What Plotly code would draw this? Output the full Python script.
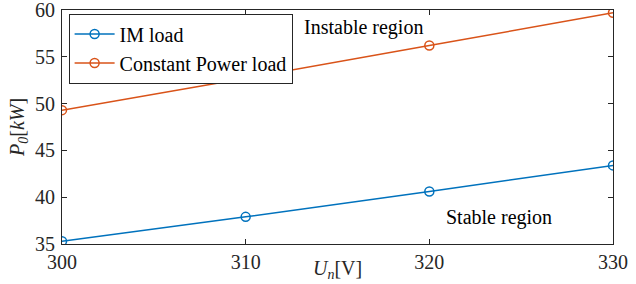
import plotly.graph_objects as go

voltage = [300, 310, 320, 330]
im_load = [35.3, 37.9, 40.6, 43.4]
cp_load = [49.3, 52.7, 56.2, 59.7]
series_names = ["IM load", "Constant Power load"]
x_ticks = [300, 310, 320, 330]
y_ticks = [35, 40, 45, 50, 55, 60]

FONT = "Liberation Serif"
FS = 20

fig = go.Figure()
fig.add_trace(go.Scatter(x=voltage, y=im_load, mode="lines+markers", name=series_names[0],
                         line=dict(color="#0072BD", width=1.5),
                         marker=dict(symbol="circle-open", size=9, color="#0072BD", line=dict(width=1.5))))
fig.add_trace(go.Scatter(x=voltage, y=cp_load, mode="lines+markers", name=series_names[1],
                         line=dict(color="#D95319", width=1.5),
                         marker=dict(symbol="circle-open", size=9, color="#D95319", line=dict(width=1.5))))

axis_common = dict(showgrid=False, zeroline=False, showline=True, linecolor="#262626", linewidth=1,
                   mirror="ticks", ticks="inside", ticklen=5, tickcolor="#262626", automargin=False,
                   ticklabeloverflow="allow",
                   tickfont=dict(family=FONT, size=FS, color="#262626"))

fig.update_xaxes(range=[300, 330], tickvals=x_ticks, **axis_common, ticklabelstandoff=0)
fig.update_yaxes(range=[35, 60], tickvals=y_ticks, **axis_common, ticklabelstandoff=2)

# axis titles placed as paper annotations
fig.add_annotation(x=0.5, y=-0.111, xref="paper", yref="paper", yanchor="middle", showarrow=False,
                   text="<i>U<sub>n</sub></i>[V]", font=dict(family=FONT, size=FS, color="#262626"))
fig.add_annotation(x=-0.08, y=0.5, xref="paper", yref="paper", xanchor="center", showarrow=False,
                   textangle=-90, text="<i>P<sub>0</sub></i>[<i>kW</i>]",
                   font=dict(family=FONT, size=FS, color="#262626"))

fig.add_annotation(x=319.76, y=58.1, xref="x", yref="y", text="Instable region", showarrow=False,
                   xanchor="right", font=dict(family=FONT, size=FS, color="#000000"))
fig.add_annotation(x=323.8, y=37.8, xref="x", yref="y", text="Stable region", showarrow=False,
                   xanchor="center", font=dict(family=FONT, size=FS, color="#000000"))

fig.update_layout(
    width=636, height=284,
    margin=dict(l=62, r=23, t=10, b=40, autoexpand=False),
    paper_bgcolor="white", plot_bgcolor="white",
    showlegend=True,
    legend=dict(x=0.012, y=0.985, xanchor="left", yanchor="top",
                bgcolor="white", bordercolor="#262626", borderwidth=1,
                font=dict(family=FONT, size=FS, color="#000000"),
                itemwidth=40, tracegroupgap=0),
)

fig.write_html("out.html", config={"displayModeBar": False},
               post_script="document.body.style.margin='0';")
